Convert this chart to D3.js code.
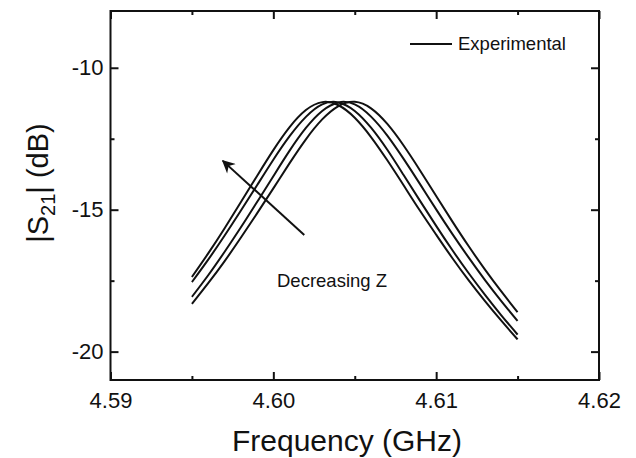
<!DOCTYPE html>
<html>
<head>
<meta charset="utf-8">
<script src="https://cdn.jsdelivr.net/npm/d3@7"></script>
<style>
  body { margin: 0; background: #fff; }
  text { font-family: "Liberation Sans", Arial, sans-serif; fill: #111; }
</style>
</head>
<body>
<svg id="chart" width="636" height="458"></svg>
<script>
// frequency samples (GHz)
const freq = [4.595, 4.596, 4.597, 4.598, 4.599, 4.600, 4.601, 4.602, 4.603, 4.604, 4.605,
  4.606, 4.607, 4.608, 4.609, 4.610, 4.611, 4.612, 4.613, 4.614, 4.615];

// |S21| (dB)
const curveA = [-17.37, -16.54, -15.66, -14.74, -13.81, -12.90, -12.09, -11.49, -11.21, -11.32, -11.76,
  -12.44, -13.26, -14.14, -15.03, -15.88, -16.71, -17.49, -18.22, -18.91, -19.57];
const curveB = [-17.55, -16.76, -15.92, -15.04, -14.14, -13.24, -12.41, -11.73, -11.29, -11.22, -11.52,
  -12.11, -12.89, -13.78, -14.68, -15.57, -16.43, -17.24, -18.00, -18.72, -19.40];
const curveC = [-18.07, -17.31, -16.49, -15.63, -14.73, -13.82, -12.92, -12.12, -11.52, -11.22, -11.29,
  -11.72, -12.39, -13.21, -14.09, -14.99, -15.86, -16.69, -17.48, -18.22, -18.92];
const curveD = [-18.32, -17.59, -16.82, -15.99, -15.13, -14.25, -13.36, -12.52, -11.82, -11.35, -11.20,
  -11.43, -11.98, -12.74, -13.61, -14.52, -15.42, -16.29, -17.11, -17.88, -18.61];
const curves = [curveA, curveB, curveC, curveD];

const xTicks = [4.59, 4.60, 4.61, 4.62];
const xMinor = [4.595, 4.605, 4.615];
const yTicks = [-20, -15, -10];
const yMinor = [-17.5, -12.5];

// arrow from tail to head (GHz, dB)
const arrowFrom = [4.6019, -15.89];
const arrowTo = [4.5969, -13.28];
const annotation = "Decreasing Z";
const legendLabel = "Experimental";

let svg = d3.select("#chart"),
  x0 = 110.5, x1 = 599, y0 = 11, y1 = 380;

let x = d3.scaleLinear().domain([4.59, 4.62]).range([x0, x1]);
let y = d3.scaleLinear().domain([-21, -8]).range([y1, y0]);

// frame
svg.append("rect")
  .attr("x", x0).attr("y", y0)
  .attr("width", x1 - x0).attr("height", y1 - y0)
  .attr("fill", "none").attr("stroke", "#111").attr("stroke-width", 2);

function tickAxis(axis, ticks, size, fmt) {
  return axis.tickValues(ticks).tickSize(size).tickSizeOuter(0).tickFormat(fmt);
}

// inward ticks on all four sides
let bottomG = svg.append("g").attr("transform", "translate(0," + y1 + ")");
bottomG.call(tickAxis(d3.axisTop(x), xTicks, 8, (d) => d.toFixed(2)));
bottomG.append("g").call(tickAxis(d3.axisTop(x), xMinor, 4, ""));
bottomG.selectAll(".tick text").attr("y", 28).attr("dy", null)
  .attr("font-size", "22px").style("font-family", "Liberation Sans, Arial, sans-serif").attr("fill", "#111");

let topG = svg.append("g").attr("transform", "translate(0," + y0 + ")");
topG.call(tickAxis(d3.axisBottom(x), xTicks, 8, ""));
topG.append("g").call(tickAxis(d3.axisBottom(x), xMinor, 4, ""));

let leftG = svg.append("g").attr("transform", "translate(" + x0 + ",0)");
leftG.call(tickAxis(d3.axisRight(y), yTicks, 8, (d) => String(d)));
leftG.append("g").call(tickAxis(d3.axisRight(y), yMinor, 4, ""));
leftG.selectAll(".tick text").attr("x", -7).attr("text-anchor", "end")
  .attr("font-size", "22px").style("font-family", "Liberation Sans, Arial, sans-serif").attr("fill", "#111");

let rightG = svg.append("g").attr("transform", "translate(" + x1 + ",0)");
rightG.call(tickAxis(d3.axisLeft(y), yTicks, 8, ""));
rightG.append("g").call(tickAxis(d3.axisLeft(y), yMinor, 4, ""));

svg.selectAll(".domain").remove();
svg.selectAll(".tick line").attr("stroke", "#111").attr("stroke-width", 2);

// curves
let line = d3.line()
  .x((d, i) => x(freq[i]))
  .y((d) => y(d))
  .curve(d3.curveNatural);

svg.append("g")
  .selectAll("path")
  .data(curves)
  .enter()
  .append("path")
  .attr("d", line)
  .attr("fill", "none")
  .attr("stroke", "#111")
  .attr("stroke-width", 2);

// arrow
svg.append("defs").append("marker")
  .attr("id", "head")
  .attr("viewBox", "0 0 10 10")
  .attr("refX", 9).attr("refY", 5)
  .attr("markerWidth", 16).attr("markerHeight", 13)
  .attr("markerUnits", "userSpaceOnUse")
  .attr("orient", "auto")
  .append("path")
  .attr("d", "M0,0 L10,5 L0,10 L3,5 Z")
  .attr("fill", "#111");

svg.append("line")
  .attr("x1", x(arrowFrom[0])).attr("y1", y(arrowFrom[1]))
  .attr("x2", x(arrowTo[0])).attr("y2", y(arrowTo[1]))
  .attr("stroke", "#111").attr("stroke-width", 2)
  .attr("marker-end", "url(#head)");

svg.append("text")
  .attr("x", 277).attr("y", 287)
  .attr("font-size", "18.5px")
  .text(annotation);

// legend
svg.append("line")
  .attr("x1", 410).attr("x2", 452).attr("y1", 44).attr("y2", 44)
  .attr("stroke", "#111").attr("stroke-width", 2);
svg.append("text")
  .attr("x", 458).attr("y", 50)
  .attr("font-size", "18.5px")
  .text(legendLabel);

// axis titles
svg.append("text")
  .attr("x", 347).attr("y", 451)
  .attr("text-anchor", "middle")
  .attr("font-size", "30px")
  .text("Frequency (GHz)");

let yTitle = svg.append("text")
  .attr("transform", "translate(48,183) rotate(-90)")
  .attr("text-anchor", "middle")
  .attr("font-size", "29px");
yTitle.append("tspan").text("|S");
yTitle.append("tspan").attr("font-size", "20px").attr("dy", 7).text("21");
yTitle.append("tspan").attr("dy", -7).text("| (dB)");
</script>
</body>
</html>
